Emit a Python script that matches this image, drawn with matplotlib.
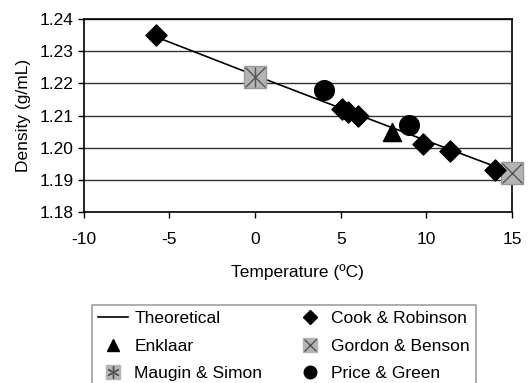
import matplotlib
matplotlib.use("Agg")
import matplotlib.pyplot as plt
from matplotlib.lines import Line2D

plt.rcParams['font.family'] = ['Liberation Sans', 'DejaVu Sans']

# data
theory_t = [-5.8, 0, 5, 10, 15]
theory_d = [1.2345, 1.2225, 1.2123, 1.2022, 1.1922]

cook_t = [-5.8, 5.1, 5.4, 6.0, 9.8, 11.4, 14.0]
cook_d = [1.235, 1.212, 1.211, 1.210, 1.201, 1.199, 1.193]

enklaar_t = [8.0]
enklaar_d = [1.205]

gordon_t = [0.0, 15.0]
gordon_d = [1.222, 1.192]

maugin_t = [0.0]
maugin_d = [1.222]

price_t = [4.0, 9.0]
price_d = [1.218, 1.207]

xticks = [-10, -5, 0, 5, 10, 15]
yticks = [1.18, 1.19, 1.20, 1.21, 1.22, 1.23, 1.24]

fs = 12.5

fig = plt.figure(figsize=(5.31, 3.83), dpi=100)
ax = fig.add_axes([0.158, 0.4465, 0.806, 0.5035])

for y in yticks:
    ax.axhline(y, color='#333333', lw=1.0, zorder=1)

ax.plot(theory_t, theory_d, color='black', lw=1.2, zorder=2)

grey = '#b4b4b4'
ax.scatter(gordon_t, gordon_d, marker='s', s=260, facecolor=grey,
           edgecolor='#999999', zorder=3, clip_on=False)
ax.scatter(gordon_t, gordon_d, marker='x', s=200, color='#555555',
           linewidths=1.0, zorder=4, clip_on=False)
ax.scatter(maugin_t, maugin_d, marker='|', s=200, color='#555555',
           linewidths=1.0, zorder=4)
ax.scatter(cook_t, cook_d, marker='D', s=115, color='black', zorder=5)
ax.scatter(enklaar_t, enklaar_d, marker='^', s=170, color='black', zorder=5)
ax.scatter(price_t, price_d, marker='o', s=200, color='black', zorder=5)

ax.set_xlim(-10, 15)
ax.set_ylim(1.18, 1.24)
ax.set_xticks(xticks)
ax.set_yticks(yticks)
ax.set_xticklabels([str(t) for t in xticks])
ax.set_yticklabels(['%.2f' % t for t in yticks])
ax.tick_params(labelsize=fs, length=4.5, width=1, direction='out', pad=3)
ax.tick_params(axis='x', pad=10)
for s in ax.spines.values():
    s.set_linewidth(1.2)

ax.set_xlabel('Temperature (ºC)', fontsize=fs, labelpad=12)
ax.set_ylabel('Density (g/mL)', fontsize=fs, labelpad=6)

# legend handles
h_theory = Line2D([], [], color='black', lw=1.2)
h_enk = Line2D([], [], marker='^', color='black', ls='none', markersize=9)
h_mau_bg = Line2D([], [], marker='s', color=grey, ls='none', markersize=10)
h_mau = Line2D([], [], marker=(6, 2, 0), color='#555555', ls='none',
               markersize=9, markeredgewidth=1.0)
h_cook = Line2D([], [], marker='D', color='black', ls='none', markersize=7)
h_gor_bg = Line2D([], [], marker='s', color=grey, ls='none', markersize=10)
h_gor = Line2D([], [], marker='x', color='#555555', ls='none',
               markersize=9, markeredgewidth=1.0)
h_price = Line2D([], [], marker='o', color='black', ls='none', markersize=9)

handles = [h_theory, h_enk, (h_mau_bg, h_mau), h_cook, (h_gor_bg, h_gor), h_price]
labels = ['Theoretical', 'Enklaar', 'Maugin & Simon',
          'Cook & Robinson', 'Gordon & Benson', 'Price & Green']

leg = fig.legend(handles, labels, ncol=2, loc='upper left',
                 bbox_to_anchor=(0.173, 0.204), fontsize=fs,
                 frameon=True, fancybox=False, edgecolor='#888888',
                 borderpad=0.35, borderaxespad=0, labelspacing=0.72,
                 columnspacing=1.85, handlelength=1.75, handletextpad=0.35)
leg.get_frame().set_linewidth(1.2)

fig.savefig('out.png', dpi=100)
